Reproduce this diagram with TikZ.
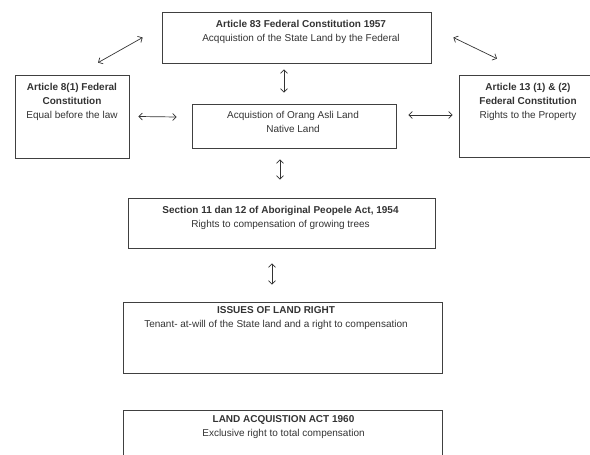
\documentclass[tikz,border=0pt]{standalone}
\usepackage{fontspec}
\setmainfont{Liberation Sans}
\usetikzlibrary{arrows,arrows.meta}

\begin{document}
\begin{tikzpicture}[x=1pt,y=-1pt,
	box/.style={draw=black!75,line width=0.7pt,inner sep=0pt},
	txt/.style={anchor=north,inner sep=0pt,align=center,font=\fontsize{10}{14}\selectfont,text=black!80},
	link/.style={{Straight Barb[length=3.5pt,width=7pt]}-{Straight Barb[length=3.5pt,width=7pt]},draw=black!80,line width=0.7pt}]
	\useasboundingbox (0,0) rectangle (590,455);
	\clip (0,0) rectangle (590,455);
	\node[box,minimum width=269pt,minimum height=51pt] (art83) at (296.5,37.5) {};
	\node[box,minimum width=114pt,minimum height=83pt] (art8) at (72,116.5) {};
	\node[box,minimum width=138pt,minimum height=82pt] (art13) at (528,116) {};
	\node[box,minimum width=204pt,minimum height=44pt] (orang) at (294,126) {};
	\node[box,minimum width=307pt,minimum height=50pt] (sec11) at (281.5,223) {};
	\node[box,minimum width=319pt,minimum height=71pt] (issues) at (282.5,337.5) {};
	\node[box,minimum width=319pt,minimum height=71pt] (lact) at (282.5,445.5) {};
	\node[txt] (art83txt) at ([xshift=4.5pt,yshift=-8pt]art83.north) {\textbf{Article 83 Federal Constitution 1957}\\Acqquistion of the State Land by the Federal};
	\node[txt] (art8txt) at ([yshift=-8pt]art8.north) {\textbf{Article 8(1) Federal}\\\textbf{Constitution}\\Equal before the law};
	\node[txt] (art13txt) at ([yshift=-8pt]art13.north) {\textbf{Article 13 (1) \& (2)}\\\textbf{Federal Constitution}\\Rights to the Property};
	\node[txt] (orangtxt) at ([xshift=-1pt,yshift=-7pt]orang.north) {Acquistion of Orang Asli Land\\Native Land};
	\node[txt] (sec11txt) at ([xshift=-1pt,yshift=-8pt]sec11.north) {\textbf{Section 11 dan 12 of Aboriginal Peopele Act, 1954}\\Rights to compensation of growing trees};
	\node[txt] (issuestxt) at ([xshift=-6.5pt,yshift=-5pt]issues.north) {\textbf{ISSUES OF LAND RIGHT}\\Tenant- at-will of the State land and a right to compensation};
	\node[txt] (lacttxt) at ([xshift=1pt,yshift=-6pt]lact.north) {\textbf{LAND ACQUISTION ACT 1960}\\Exclusive right to total compensation};
	\draw[link] ([xshift=26pt,yshift=12pt]art8.north) -- ([xshift=-19pt]art83.west);
	\draw[link] ([xshift=22pt]art83.east) -- ([xshift=-31pt,yshift=16pt]art13.north);
	\draw[link] ([xshift=-12.5pt,yshift=-6pt]art83.south) -- ([xshift=-10pt,yshift=11pt]orang.north);
	\draw[link] ([xshift=9pt]art8.east) -- ([xshift=-15pt,yshift=9pt]orang.west);
	\draw[link] ([xshift=12pt,yshift=11pt]orang.east) -- ([xshift=-6pt,yshift=1pt]art13.west);
	\draw[link] ([xshift=-14pt,yshift=-11pt]orang.south) -- ([xshift=-1.5pt,yshift=18pt]sec11.north);
	\draw[link] ([xshift=-9.5pt,yshift=-15pt]sec11.south) -- ([xshift=-10.5pt,yshift=17pt]issues.north);
\end{tikzpicture}
\end{document}
